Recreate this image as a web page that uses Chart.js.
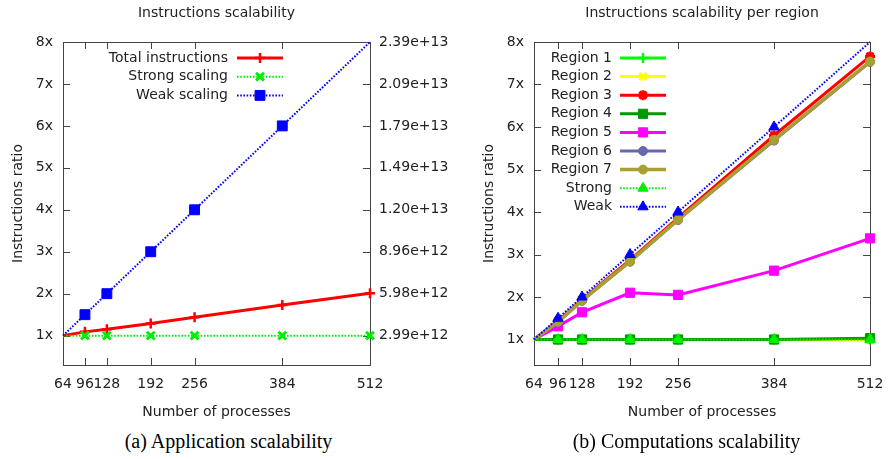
<!DOCTYPE html>
<html>
<head>
<meta charset="utf-8">
<script src="https://cdn.jsdelivr.net/npm/chart.js@4.4.1/dist/chart.umd.min.js"></script>
<style>
  body { margin: 0; background: #fff; width: 894px; height: 459px; position: relative; overflow: hidden; }
  canvas { position: absolute; top: 0; }
  #appChart { left: 0; }
  #compChart { left: 447px; }
  .cap { position: absolute; top: 431px; width: 447px; text-align: center; font: 20px "Liberation Serif", serif; line-height: 20px; color: #000; }
</style>
</head>
<body>
<canvas id="appChart" width="460" height="425"></canvas>
<canvas id="compChart" width="447" height="425"></canvas>
<div class="cap" style="left:5px">(a) Application scalability</div>
<div class="cap" style="left:463px">(b) Computations scalability</div>
<script>
// x: number of MPI processes, y: instruction count relative to 64 processes
const processes = [64, 96, 128, 192, 256, 384, 512];
const ratioTicks = [1, 2, 3, 4, 5, 6, 7, 8];
const totalInstrTicks = ['2.99e+12', '5.98e+12', '8.96e+12', '1.20e+13', '1.49e+13', '1.79e+13', '2.09e+13', '2.39e+13'];

// (a) whole application
const totalInstructions = [1.00, 1.09, 1.15, 1.29, 1.44, 1.73, 2.01];
const strongScaling = [1, 1, 1, 1, 1, 1, 1];
const weakScaling = [1, 1.5, 2, 3, 4, 6, 8];

// (b) per computation region
const region1 = [1, 1, 1, 1, 1, 1, 1.00];
const region2 = [1, 1, 1, 1, 1, 1, 0.99];
const region3 = [1, 1.44, 1.94, 2.87, 3.86, 5.80, 7.66];
const region4 = [1, 1, 1, 1, 1, 1, 1.03];
const region5 = [1, 1.31, 1.64, 2.10, 2.05, 2.62, 3.38];
const region6 = [1, 1.41, 1.91, 2.83, 3.81, 5.68, 7.53];
const region7 = [1, 1.42, 1.92, 2.84, 3.82, 5.70, 7.54];

const FONT = { family: 'DejaVu Sans', size: 14, weight: 'normal' };
const INK = '#222';
const DOTS = [1.6, 1.6];

// gnuplot leaves out points sitting on the left or top border
function markerRadius(r) {
  return ctx => {
    const p = ctx.raw;
    if (!p) return r;
    const s = ctx.chart.scales;
    return (p.x <= s.x.min || p.y >= s.y.max) ? 0 : r;
  };
}

function series(label, values, o) {
  return {
    label,
    data: processes.map((x, i) => ({ x, y: values[i] })),
    borderColor: o.color,
    backgroundColor: o.color,
    pointBackgroundColor: o.color,
    pointBorderColor: o.color,
    borderWidth: o.width,
    borderDash: o.dash || [],
    pointStyle: o.style,
    pointRadius: markerRadius(o.size),
    pointBorderWidth: o.pw || 1,
    markSize: o.size,
    tension: 0,
    clip: false
  };
}

// border box plus inward tick marks on all four sides
const gnuFrame = {
  id: 'gnuFrame',
  beforeDatasetsDraw(chart) {
    const { ctx, chartArea: a, scales } = chart;
    const t = 7;
    ctx.save();
    ctx.strokeStyle = '#444';
    ctx.lineWidth = 1;
    ctx.beginPath();
    scales.x.ticks.forEach(tk => {
      const px = Math.round(scales.x.getPixelForValue(tk.value)) + 0.5;
      ctx.moveTo(px, a.bottom); ctx.lineTo(px, a.bottom - t);
      ctx.moveTo(px, a.top); ctx.lineTo(px, a.top + t);
    });
    scales.y.ticks.forEach(tk => {
      const py = Math.round(scales.y.getPixelForValue(tk.value)) + 0.5;
      ctx.moveTo(a.left, py); ctx.lineTo(a.left + t, py);
      ctx.moveTo(a.right, py); ctx.lineTo(a.right - t, py);
    });
    ctx.stroke();
    ctx.strokeRect(Math.round(a.left) + 0.5, Math.round(a.top) + 0.5, Math.round(a.right - a.left), Math.round(a.bottom - a.top));
    ctx.restore();
  }
};

// key with right-aligned labels and the sample to their right
const gnuKey = {
  id: 'gnuKey',
  afterDatasetsDraw(chart, args, opts) {
    const { ctx } = chart;
    ctx.save();
    ctx.font = FONT.size + 'px "DejaVu Sans"';
    ctx.textAlign = 'right';
    ctx.textBaseline = 'middle';
    chart.data.datasets.forEach((ds, i) => {
      const y = opts.top + i * opts.step;
      ctx.fillStyle = INK;
      ctx.fillText(ds.label, opts.textRight, y);
      ctx.strokeStyle = ds.borderColor;
      ctx.lineWidth = ds.borderWidth;
      ctx.setLineDash(ds.borderDash);
      ctx.beginPath();
      ctx.moveTo(opts.x0, y);
      ctx.lineTo(opts.x1, y);
      ctx.stroke();
      ctx.setLineDash([]);
      ctx.fillStyle = ds.pointBackgroundColor;
      ctx.lineWidth = ds.pointBorderWidth;
      if (Chart.helpers && Chart.helpers.drawPoint) {
        Chart.helpers.drawPoint(ctx, {
          pointStyle: ds.pointStyle, rotation: 0,
          radius: ds.markSize, borderWidth: ds.pointBorderWidth
        }, (opts.x0 + opts.x1) / 2, y);
      }
    });
    ctx.restore();
  }
};

function baseOptions(title, yMin, leftWidth, yTitlePad, key) {
  return {
    responsive: false,
    animation: false,
    devicePixelRatio: 1,
    layout: { padding: 0 },
    plugins: {
      legend: { display: false },
      tooltip: { enabled: false },
      title: {
        display: true, text: title, fullSize: false, color: INK, font: FONT,
        padding: { top: 4.6, bottom: 20.6 }
      },
      gnuKey: key
    },
    scales: {
      x: {
        type: 'linear', min: 64, max: 512,
        afterBuildTicks: s => { s.ticks = processes.map(v => ({ value: v })); },
        afterFit: s => { s.height = 60; },
        grid: { display: false, drawTicks: false },
        border: { display: false },
        ticks: { autoSkip: false, maxRotation: 0, minRotation: 0, padding: 10.6, color: INK, font: FONT, callback: v => String(v) },
        title: { display: true, text: 'Number of processes', color: INK, font: FONT, padding: { top: 0, bottom: 4.6 } }
      },
      y: {
        min: yMin, max: 8,
        afterBuildTicks: s => { s.ticks = ratioTicks.map(v => ({ value: v })); },
        afterFit: s => { s.width = leftWidth; },
        grid: { display: false, drawTicks: false },
        border: { display: false },
        ticks: { padding: 10, color: INK, font: FONT, callback: v => v + 'x' },
        title: { display: true, text: 'Instructions ratio', color: INK, font: FONT, padding: { top: yTitlePad, bottom: 0 } }
      }
    }
  };
}

// (a) Application scalability; right axis gives absolute instruction counts
const appOptions = baseOptions('Instructions scalability', 0.3, 63, 9.6,
  { textRight: 228, x0: 237, x1: 283, top: 58, step: 18.7 });
appOptions.scales.y2 = {
  position: 'right', min: 0.3, max: 8,
  afterBuildTicks: s => { s.ticks = ratioTicks.map(v => ({ value: v })); },
  afterFit: s => { s.width = 90; },
  grid: { display: false, drawTicks: false },
  border: { display: false },
  ticks: { padding: 9, color: INK, font: FONT, callback: (v, i) => totalInstrTicks[i] }
};

const appSets = [
  series('Total instructions', totalInstructions, { color: '#ff0000', width: 3, style: 'cross', size: 5, pw: 2.5 }),
  series('Strong scaling', strongScaling, { color: '#00ee00', width: 2, dash: DOTS, style: 'crossRot', size: 5.5, pw: 3 }),
  series('Weak scaling', weakScaling, { color: '#0000ff', width: 2, dash: DOTS, style: 'rect', size: 7, pw: 1 })
];
appSets.forEach((d, i) => { d.order = -i; d.yAxisID = 'y'; });

new Chart(document.getElementById('appChart'), {
  type: 'line',
  data: { datasets: appSets },
  options: appOptions,
  plugins: [gnuFrame, gnuKey]
});

// (b) Computations scalability
const compOptions = baseOptions('Instructions scalability per region', 0.4, 87, 33.6,
  { textRight: 165, x0: 173, x1: 219, top: 58, step: 18.6 });
compOptions.layout.padding = { right: 15 };

const compSets = [
  series('Region 1', region1, { color: '#00ff00', width: 3, style: 'cross', size: 5, pw: 2.5 }),
  series('Region 2', region2, { color: '#ffff00', width: 3, style: 'crossRot', size: 5, pw: 3 }),
  series('Region 3', region3, { color: '#ff0000', width: 3, style: 'star', size: 5, pw: 3 }),
  series('Region 4', region4, { color: '#009900', width: 3, style: 'rect', size: 6.5, pw: 1 }),
  series('Region 5', region5, { color: '#ff00ff', width: 3, style: 'rect', size: 6.5, pw: 1 }),
  series('Region 6', region6, { color: '#6868b0', width: 3, style: 'circle', size: 4.5, pw: 1 }),
  series('Region 7', region7, { color: '#aaa030', width: 3.5, style: 'circle', size: 4.5, pw: 1 }),
  series('Strong', strongScaling, { color: '#00ee00', width: 2, dash: DOTS, style: 'triangle', size: 6, pw: 1 }),
  series('Weak', weakScaling, { color: '#0000ff', width: 2, dash: DOTS, style: 'triangle', size: 6, pw: 1 })
];
compSets.forEach((d, i) => { d.order = -i; });

new Chart(document.getElementById('compChart'), {
  type: 'line',
  data: { datasets: compSets },
  options: compOptions,
  plugins: [gnuFrame, gnuKey]
});
</script>
</body>
</html>
